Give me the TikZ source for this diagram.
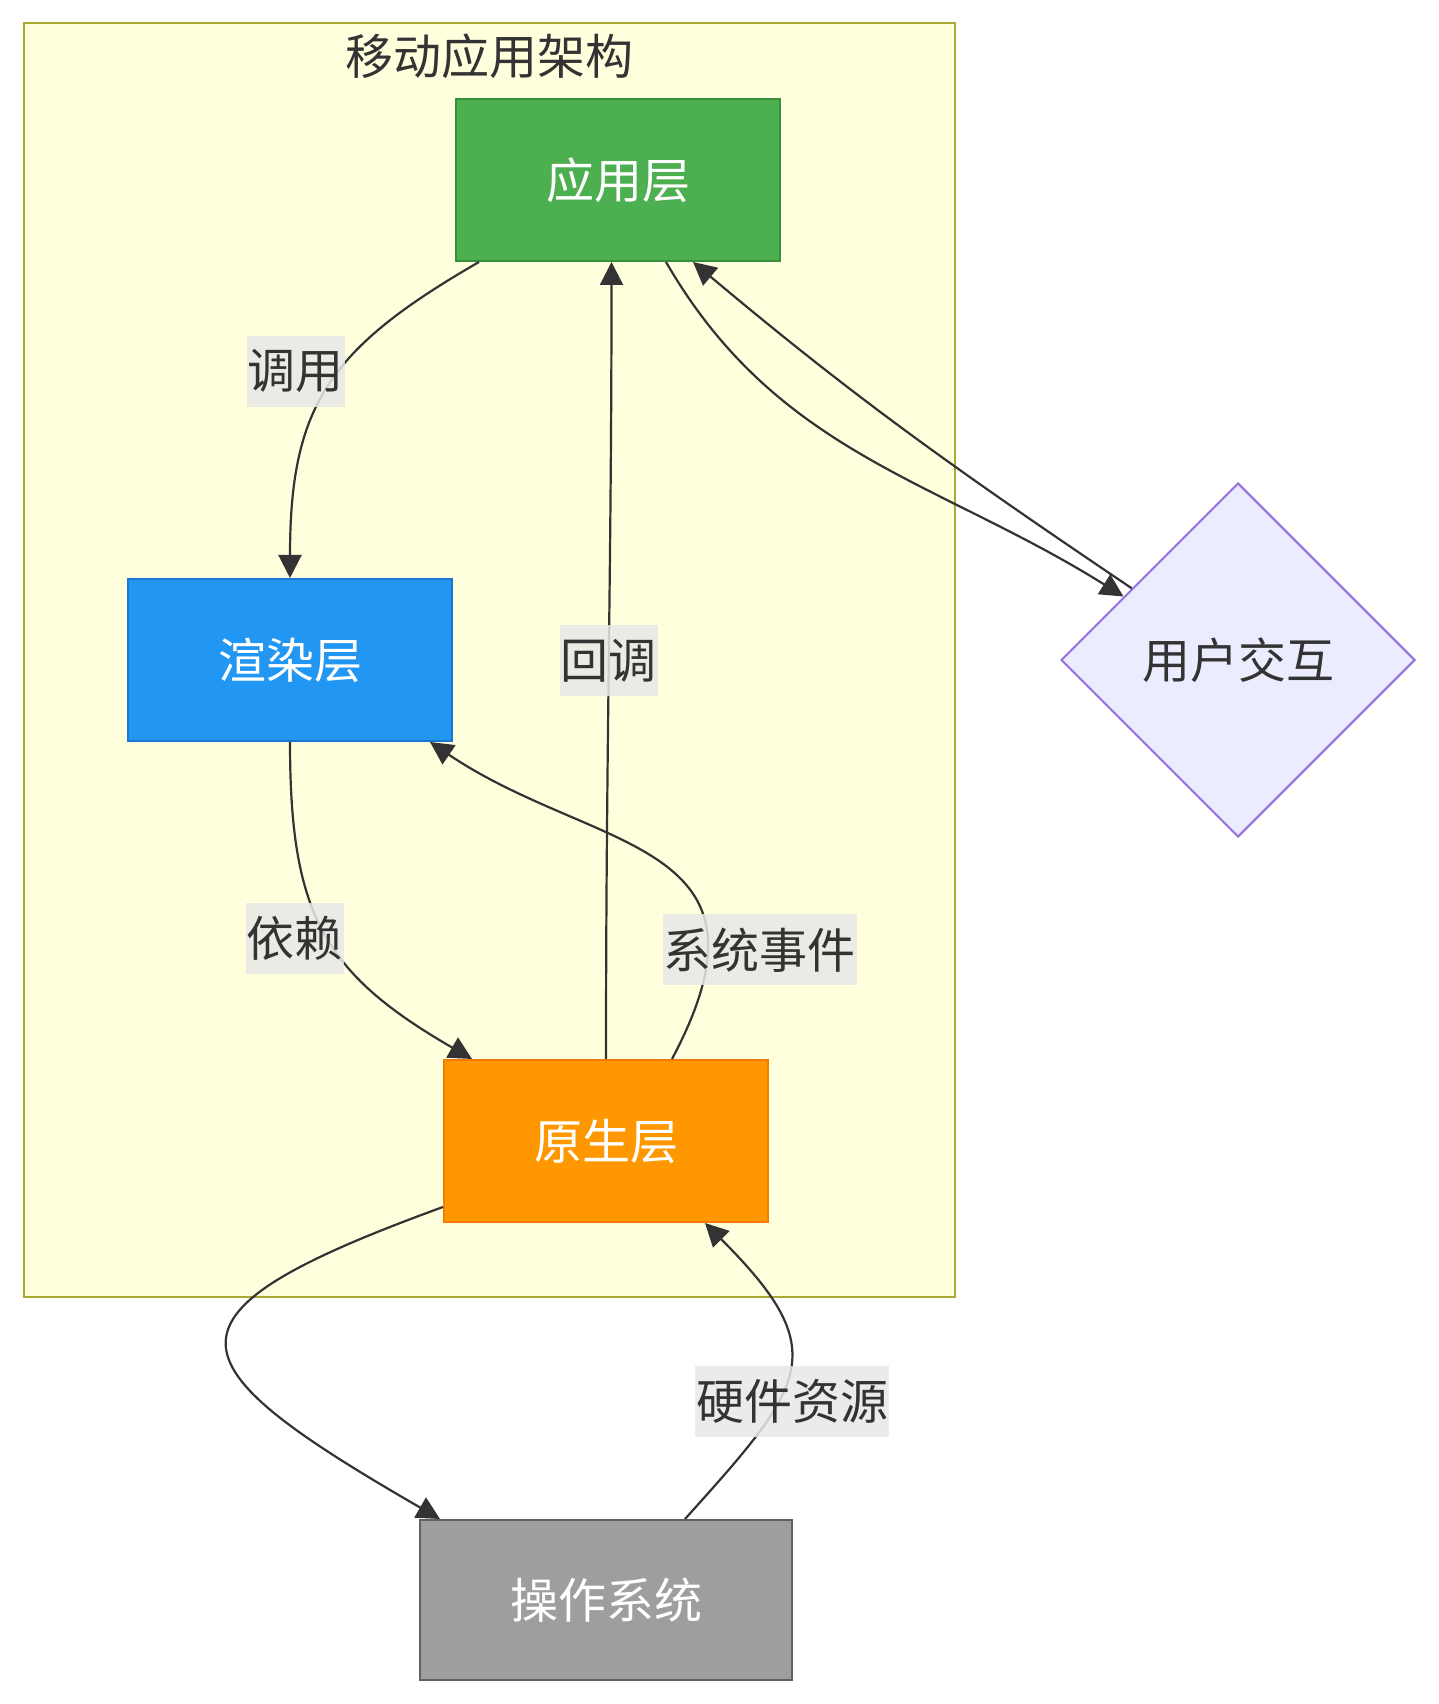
\documentclass[tikz,border=0pt]{standalone}
\usepackage{fontspec}
\newfontfamily\cjkfont{Noto Sans CJK SC}
\usepackage{xcolor}
\usetikzlibrary{arrows.meta,shapes.geometric}

\definecolor{texte}{HTML}{333333}
\definecolor{fondetiq}{HTML}{E8E8E8}
\definecolor{fondcadre}{HTML}{FFFFDE}
\definecolor{traitcadre}{HTML}{AAAA33}
\definecolor{vertapp}{HTML}{4CAF50}
\definecolor{vertfonce}{HTML}{388E3C}
\definecolor{bleurendu}{HTML}{2196F3}
\definecolor{bleufonce}{HTML}{1976D2}
\definecolor{orangenatif}{HTML}{FF9800}
\definecolor{orangefonce}{HTML}{F57C00}
\definecolor{grisos}{HTML}{9E9E9E}
\definecolor{grisfonce}{HTML}{616161}
\definecolor{fondusager}{HTML}{ECECFF}
\definecolor{traitusager}{HTML}{9370DB}

\tikzset{
  police/.style={font=\cjkfont\fontsize{48}{58}\selectfont},
  couche/.style={police, line width=2pt, minimum width=324pt, minimum height=162pt, inner sep=0pt, text=white},
  etiquette/.style={police, fill=fondetiq, fill opacity=0.85, text opacity=1, text=texte, inner xsep=1pt, inner ysep=0pt, minimum height=71pt},
  fleche/.style={draw=texte, line width=2.2pt, -{Triangle[length=23pt,width=23pt]}}
}

\begin{document}
\begin{tikzpicture}[x=1pt,y=1pt]
    \useasboundingbox (0,0) rectangle (1438,1704);

    % Dessiner le cadre
    \node[draw=traitcadre, fill=fondcadre, line width=2.2pt, minimum width=931pt, minimum height=1274pt, inner sep=0pt] (archi) at (489.5,1044) {};
    \node[police, text=texte] (titre) at ([yshift=-34pt]archi.north) {移动应用架构};

    % Les couches
    \node[couche, draw=vertfonce, fill=vertapp] (app) at (618,1524) {应用层};
    \node[couche, draw=bleufonce, fill=bleurendu] (rendu) at (290,1044) {渲染层};
    \node[couche, draw=orangefonce, fill=orangenatif] (natif) at (606,563) {原生层};
    \node[couche, draw=grisfonce, fill=grisos, minimum width=372pt, minimum height=160pt] (os) at (606,104) {操作系统};
    \node[police, diamond, aspect=1, draw=traitusager, fill=fondusager, line width=2pt, text=texte, minimum width=354pt, minimum height=354pt, inner sep=0pt] (usager) at (1238,1044) {用户交互};

    % Les flèches
    \draw[fleche] ([xshift=24pt]app.south west) to[out=-150,in=90,looseness=1.2]
        node[etiquette, pos=0.44, xshift=-44pt] (e-appel) {调用} (rendu.north);
    \draw[fleche] (rendu.south) to[out=-90,in=150,looseness=1.2]
        node[etiquette, pos=0.52, xshift=-34pt] (e-dep) {依赖} ([xshift=29pt]natif.north west);
    \draw[fleche] (natif.north) to[out=90,in=-90]
        node[etiquette, pos=0.5] (e-retour) {回调} ([xshift=-6.5pt]app.south);
    \draw[fleche] ([xshift=66pt]natif.north) .. controls +(62:250) and +(-34:200) ..
        node[etiquette, pos=0.205, xshift=52pt] (e-sys) {系统事件} ([xshift=-23pt]rendu.south east);
    \draw[fleche] ([xshift=48pt]app.south) to[out=-60,in=148] (usager.151);
    \draw[fleche] (usager.146) to[out=146,in=-40] ([xshift=75pt]app.south);
    \draw[fleche] ([yshift=16pt]natif.south west) to[out=200,in=150,looseness=2.58] ([xshift=21pt]os.north west);
    \draw[fleche] ([xshift=79pt]os.north) to[out=48,in=-45,looseness=1.57]
        node[etiquette, pos=0.37, xshift=14pt] (e-mat) {硬件资源} ([xshift=99pt]natif.south);
\end{tikzpicture}
\end{document}
